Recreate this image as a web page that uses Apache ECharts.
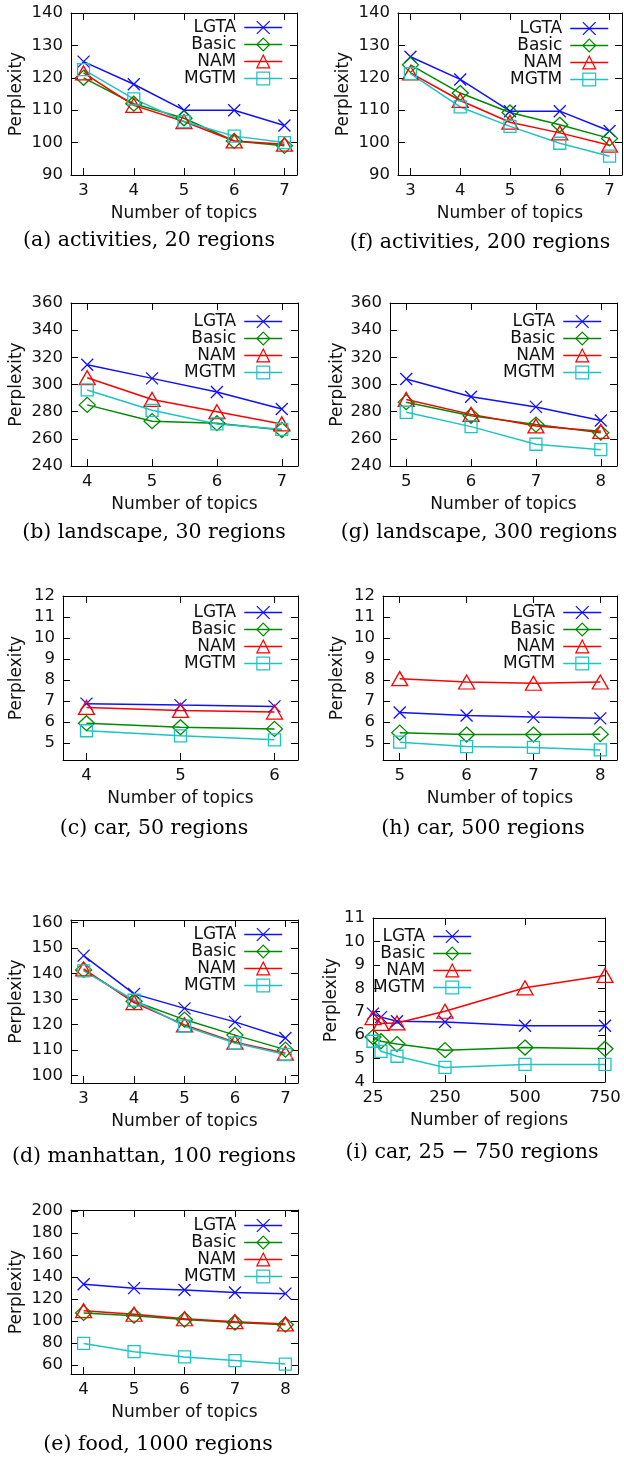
<!DOCTYPE html>
<html>
<head>
<meta charset="utf-8">
<script src="https://cdn.jsdelivr.net/npm/echarts@6/dist/echarts.min.js"></script>
<style>
  html, body { margin: 0; padding: 0; background: #fff; }
  #chart { width: 624px; height: 1461px; }
</style>
</head>
<body>
<div id="chart"></div>
<script>
// x values
const topics37 = [3, 4, 5, 6, 7];
const topics47 = [4, 5, 6, 7];
const topics58 = [5, 6, 7, 8];
const topics46 = [4, 5, 6];
const topics48 = [4, 5, 6, 7, 8];
const regions = [25, 50, 100, 250, 500, 750];

// tick labels
const ticksAct = [90, 100, 110, 120, 130, 140];
const ticksLand = [240, 260, 280, 300, 320, 340, 360];
const ticksCar = [5, 6, 7, 8, 9, 10, 11, 12];
const ticksMan = [100, 110, 120, 130, 140, 150, 160];
const ticksCarReg = [4, 5, 6, 7, 8, 9, 10, 11];
const ticksFood = [60, 80, 100, 120, 140, 160, 180, 200];
const ticksRegions = [25, 250, 500, 750];

// (a) activities, 20 regions
const a_LGTA = [125, 118, 110, 110, 105.3];
const a_Basic = [120, 112, 107.5, 100.5, 99];
const a_NAM = [121.5, 111.5, 106.5, 100.5, 99.5];
const a_MGTM = [122.5, 113.5, 106.5, 102, 100];
// (f) activities, 200 regions
const f_LGTA = [126.5, 119.5, 109.7, 109.7, 103.6];
const f_Basic = [124, 115.3, 109.3, 105.5, 101.3];
const f_NAM = [121.5, 113, 106.3, 103, 99.2];
const f_MGTM = [121.3, 111, 105, 99.8, 95.8];
// (b) landscape, 30 regions
const b_LGTA = [314.5, 304.5, 294.5, 282];
const b_Basic = [285, 273, 271.5, 266.5];
const b_NAM = [305, 289, 280, 271];
const b_MGTM = [296, 281, 271, 267];
// (g) landscape, 300 regions
const g_LGTA = [304, 291, 283.5, 273.5];
const g_Basic = [287, 277, 270.5, 264.5];
const g_NAM = [289, 278, 269.5, 265.5];
const g_MGTM = [279.5, 269, 256, 252];
// (c) car, 50 regions
const c_LGTA = [6.88, 6.81, 6.75];
const c_Basic = [5.95, 5.76, 5.68];
const c_NAM = [6.7, 6.56, 6.48];
const c_MGTM = [5.59, 5.35, 5.16];
// (h) car, 500 regions
const h_LGTA = [6.46, 6.32, 6.24, 6.18];
const h_Basic = [5.5, 5.41, 5.41, 5.43];
const h_NAM = [8.07, 7.91, 7.85, 7.91];
const h_MGTM = [5.05, 4.84, 4.8, 4.68];
// (d) manhattan, 100 regions
const d_LGTA = [147, 132, 126.3, 121, 114.7];
const d_Basic = [141.4, 129.1, 121.9, 115.8, 110.1];
const d_NAM = [141.8, 128.6, 119.8, 113, 108.7];
const d_MGTM = [141, 129.5, 119.3, 112.7, 108.2];
// (i) car, 25 - 750 regions
const i_LGTA = [6.92, 6.77, 6.59, 6.56, 6.4, 6.4];
const i_Basic = [5.92, 5.74, 5.62, 5.36, 5.47, 5.42];
const i_NAM = [6.75, 6.5, 6.52, 7.02, 8.02, 8.55];
const i_MGTM = [5.74, 5.31, 5.1, 4.62, 4.75, 4.75];
// (e) food, 1000 regions
const e_LGTA = [133.5, 130, 128.3, 126, 125];
const e_Basic = [107.5, 105, 101.5, 98.8, 96.8];
const e_NAM = [109.5, 106.3, 102.2, 99.5, 97.5];
const e_MGTM = [79.8, 72.3, 67.5, 64.2, 61];

const methods = ['LGTA', 'Basic', 'NAM', 'MGTM'];
const colors = { LGTA: '#1010ff', Basic: '#008a00', NAM: '#ff0000', MGTM: '#1ec4c4' };
const symbols = { LGTA: 'path://M0,0L10,10M0,10L10,0', Basic: 'diamond', NAM: 'triangle', MGTM: 'rect' };
const sizes = { LGTA: [12, 12], Basic: [16, 15], NAM: [16, 14], MGTM: [12, 12] };

const SANS = 'DejaVu Sans';
const SERIF = 'DejaVu Serif';

const panels = [
  { cap: '(a) activities, 20 regions', x: topics37, ys: [a_LGTA, a_Basic, a_NAM, a_MGTM],
    xr: [2.75, 7.25], xt: topics37, yr: [90, 140], yt: ticksAct,
    grid: { left: 71, top: 13, width: 226, height: 162 }, lg: { right: 341, top: 19 },
    capX: 149, capY: 241, yGap: 46, xName: 'Number of topics' },
  { cap: '(f) activities, 200 regions', x: topics37, ys: [f_LGTA, f_Basic, f_NAM, f_MGTM],
    xr: [2.75, 7.25], xt: topics37, yr: [90, 140], yt: ticksAct,
    grid: { left: 398, top: 13, width: 224, height: 162 }, lg: { right: 15, top: 20 },
    capX: 480, capY: 243, yGap: 46, xName: 'Number of topics' },
  { cap: '(b) landscape, 30 regions', x: topics47, ys: [b_LGTA, b_Basic, b_NAM, b_MGTM],
    xr: [3.75, 7.25], xt: topics47, yr: [240, 360], yt: ticksLand,
    grid: { left: 71, top: 303, width: 227, height: 163 }, lg: { right: 341, top: 313 },
    capX: 154, capY: 533, yGap: 46, xName: 'Number of topics' },
  { cap: '(g) landscape, 300 regions', x: topics58, ys: [g_LGTA, g_Basic, g_NAM, g_MGTM],
    xr: [4.75, 8.25], xt: topics58, yr: [240, 360], yt: ticksLand,
    grid: { left: 390, top: 303, width: 227, height: 163 }, lg: { right: 22, top: 313 },
    capX: 479, capY: 533, yGap: 44, xName: 'Number of topics' },
  { cap: '(c) car, 50 regions', x: topics46, ys: [c_LGTA, c_Basic, c_NAM, c_MGTM],
    xr: [3.75, 6.25], xt: topics46, yr: [4.2, 12], yt: ticksCar,
    grid: { left: 63, top: 596, width: 235, height: 164 }, lg: { right: 341, top: 604 },
    capX: 154, capY: 829, yGap: 38, xName: 'Number of topics' },
  { cap: '(h) car, 500 regions', x: topics58, ys: [h_LGTA, h_Basic, h_NAM, h_MGTM],
    xr: [4.75, 8.25], xt: topics58, yr: [4.2, 12], yt: ticksCar,
    grid: { left: 383, top: 596, width: 234, height: 164 }, lg: { right: 22, top: 604 },
    capX: 483, capY: 829, yGap: 37, xName: 'Number of topics' },
  { cap: '(d) manhattan, 100 regions', x: topics37, ys: [d_LGTA, d_Basic, d_NAM, d_MGTM],
    xr: [2.75, 7.25], xt: topics37, yr: [97, 161], yt: ticksMan,
    grid: { left: 71, top: 920, width: 227, height: 163 }, lg: { right: 341, top: 926 },
    capX: 154, capY: 1157, yGap: 46, xName: 'Number of topics' },
  { cap: '(i) car, 25 \u2212 750 regions', x: regions, ys: [i_LGTA, i_Basic, i_NAM, i_MGTM],
    xr: [25, 750], xt: ticksRegions, yr: [4, 11], yt: ticksCarReg,
    grid: { left: 373, top: 918, width: 232, height: 164 }, lg: { right: 152, top: 928 },
    capX: 472, capY: 1153, yGap: 28, xName: 'Number of regions' },
  { cap: '(e) food, 1000 regions', x: topics48, ys: [e_LGTA, e_Basic, e_NAM, e_MGTM],
    xr: [3.75, 8.25], xt: topics48, yr: [52, 201], yt: ticksFood,
    grid: { left: 71, top: 1210, width: 227, height: 164 }, lg: { right: 341, top: 1217 },
    capX: 158, capY: 1445, yGap: 46, xName: 'Number of topics' }
];

const lineC = '#000';
const labelStyle = { fontFamily: SANS, fontSize: 16.5, color: '#111' };
const nameStyle = { fontFamily: SANS, fontSize: 17, color: '#111' };

function axis(gi, pos, range, ticks, extra) {
  return Object.assign({
    type: 'value', gridIndex: gi, position: pos, min: range[0], max: range[1],
    axisLine: { show: true, onZero: false, lineStyle: { color: lineC, width: 1 } },
    axisTick: { show: true, inside: true, length: 7, customValues: ticks, lineStyle: { color: lineC } },
    axisLabel: { show: false },
    splitLine: { show: false }
  }, extra);
}

const option = {
  animation: false,
  backgroundColor: '#fff',
  grid: [], xAxis: [], yAxis: [], series: [], legend: [], title: []
};

panels.forEach((p, gi) => {
  option.grid.push(Object.assign({ show: false }, p.grid));
  option.xAxis.push(axis(gi, 'bottom', p.xr, p.xt, {
    axisLabel: Object.assign({ show: true, margin: 7, customValues: p.xt }, labelStyle),
    name: p.xName, nameLocation: 'middle', nameGap: 30, nameTextStyle: nameStyle
  }));
  option.xAxis.push(axis(gi, 'top', p.xr, p.xt));
  option.yAxis.push(axis(gi, 'left', p.yr, p.yt, {
    axisLabel: Object.assign({ show: true, margin: 8, customValues: p.yt }, labelStyle),
    name: 'Perplexity', nameLocation: 'middle', nameGap: p.yGap, nameTextStyle: nameStyle
  }));
  option.yAxis.push(axis(gi, 'right', p.yr, p.yt));

  methods.forEach((m, k) => {
    option.series.push({
      type: 'line', name: m,
      xAxisIndex: gi * 2, yAxisIndex: gi * 2,
      data: p.x.map((xv, j) => [xv, p.ys[k][j]]),
      symbol: symbols[m], symbolSize: sizes[m], showAllSymbol: true,
      clip: false,
      lineStyle: { color: colors[m], width: 1.5 },
      itemStyle: { color: 'rgba(0,0,0,0)', borderColor: colors[m], borderWidth: 1.3 },
      emphasis: { disabled: true }
    });
  });

  option.legend.push({
    orient: 'vertical', align: 'right',
    right: p.lg.right, top: p.lg.top, padding: 0,
    itemWidth: 38, itemHeight: 16, itemGap: 0,
    selectedMode: false,
    data: methods,
    itemStyle: { borderWidth: 1.2 },
    lineStyle: { width: 1.5 },
    textStyle: { fontFamily: SANS, fontSize: 17, color: '#111', lineHeight: 16, padding: [0, 3, 0, 0] }
  });

  option.title.push({
    text: p.cap, left: p.capX, top: p.capY - 12, textAlign: 'center', padding: 0,
    textStyle: { fontFamily: SERIF, fontSize: 20.5, fontWeight: 'normal', color: '#000', lineHeight: 24 }
  });
});

const chart = echarts.init(document.getElementById('chart'), null, { renderer: 'canvas' });
chart.setOption(option);
</script>
</body>
</html>
